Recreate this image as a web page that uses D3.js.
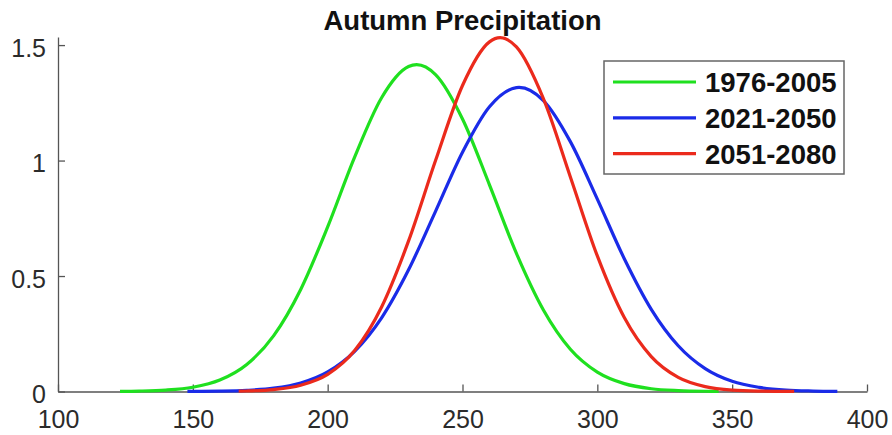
<!DOCTYPE html>
<html>
<head>
<meta charset="utf-8">
<script src="https://cdn.jsdelivr.net/npm/d3@7"></script>
<style>
  body { margin: 0; background: #fff; }
  svg { display: block; font-family: "Liberation Sans", Arial, Helvetica, sans-serif; }
</style>
</head>
<body>
<svg id="chart" width="892" height="435"></svg>
<script>
// values
const title = 'Autumn Precipitation'
const seriesNames = ['1976-2005', '2021-2050', '2051-2080']
const seriesColours = ['#1fe01f', '#1a2be8', '#eb2a1c']

const xTicks = [100, 150, 200, 250, 300, 350, 400]
const yTicks = [0, 0.5, 1, 1.5]

const x1976 = [123, 130, 140, 150, 160, 170, 180, 190, 200, 210, 220, 230, 233, 240, 250, 260, 270, 280, 290, 300, 310, 320, 330, 340, 345]
const y1976 = [0.0007, 0.0018, 0.0061, 0.0186, 0.0496, 0.117, 0.242, 0.442, 0.713, 1.015, 1.272, 1.407, 1.415, 1.372, 1.180, 0.895, 0.598, 0.353, 0.183, 0.084, 0.034, 0.012, 0.004, 0.001, 0.0005]

const x2021 = [148, 150, 160, 170, 180, 190, 200, 210, 220, 230, 240, 250, 260, 270, 271, 280, 290, 300, 310, 320, 330, 340, 350, 360, 370, 380, 389]
const y2021 = [0.0003, 0.0005, 0.0016, 0.0051, 0.0145, 0.037, 0.085, 0.174, 0.319, 0.527, 0.780, 1.036, 1.233, 1.316, 1.317, 1.260, 1.082, 0.833, 0.575, 0.356, 0.198, 0.099, 0.044, 0.018, 0.006, 0.002, 0.0006]

const x2051 = [167, 170, 180, 190, 200, 210, 220, 230, 240, 250, 260, 264, 270, 280, 290, 300, 310, 320, 330, 340, 350, 360, 373]
const y2051 = [0.0015, 0.0022, 0.0083, 0.027, 0.074, 0.177, 0.366, 0.652, 1.000, 1.325, 1.514, 1.532, 1.492, 1.268, 0.929, 0.587, 0.320, 0.151, 0.061, 0.021, 0.006, 0.0017, 0.0002]

const xSeries = [x1976, x2021, x2051]
const ySeries = [y1976, y2021, y2051]

const svg = d3.select('#chart')

const xScale = d3.scaleLinear().domain([100, 400]).range([58, 867])
const yScale = d3.scaleLinear().domain([0, 1.535]).range([391.5, 37])

// axes, ticks pointing inwards like matlab
const xAxis = svg.append('g')
    .attr('transform', `translate(0,${yScale(0)})`)
    .call(d3.axisBottom(xScale).tickValues(xTicks).tickFormat(d3.format('d'))
        .tickSizeInner(-7).tickSizeOuter(0).tickPadding(18.5))

const yAxis = svg.append('g')
    .attr('transform', `translate(${xScale(100)},0)`)
    .call(d3.axisLeft(yScale).tickValues(yTicks).tickFormat(d => d)
        .tickSizeInner(-7).tickSizeOuter(0).tickPadding(12))

for (const ax of [xAxis, yAxis]) {
    ax.select('.domain').attr('stroke', '#555').attr('stroke-width', 1.3)
    ax.selectAll('.tick line').attr('stroke', '#555').attr('stroke-width', 1.3)
    ax.selectAll('.tick text')
        .attr('fill', '#2b2b2b')
        .style('font-size', '25px')
        .style('font-family', '"Liberation Sans", Arial, sans-serif')
}
yAxis.selectAll('.tick text').attr('dy', '0.45em')

// curves
const line = d3.line()
    .x(d => xScale(d[0]))
    .y(d => yScale(d[1]))
    .curve(d3.curveMonotoneX)

svg.append('g')
    .selectAll('path.curve')
    .data(seriesNames.map((name, i) => ({
        name,
        colour: seriesColours[i],
        pts: xSeries[i].map((v, j) => [v, ySeries[i][j]])
    })))
    .join('path')
    .attr('class', 'curve')
    .attr('fill', 'none')
    .attr('stroke', d => d.colour)
    .attr('stroke-width', 3.2)
    .attr('stroke-linejoin', 'round')
    .attr('d', d => line(d.pts))

// title
svg.append('text')
    .attr('x', (xScale(100) + xScale(400)) / 2)
    .attr('y', 29.5)
    .attr('text-anchor', 'middle')
    .attr('fill', '#111')
    .style('font-size', '27.5px')
    .style('font-weight', 'bold')
    .text(title)

// legend
const legend = svg.append('g')
legend.append('rect')
    .attr('x', 604).attr('y', 61)
    .attr('width', 240).attr('height', 113)
    .attr('fill', '#fff')
    .attr('stroke', '#666')
    .attr('stroke-width', 1.5)

const rows = legend.selectAll('g.row')
    .data(seriesNames)
    .join('g')
    .attr('class', 'row')
    .attr('transform', (d, i) => `translate(0,${82 + i * 35.8})`)

rows.append('line')
    .attr('x1', 613).attr('x2', 696)
    .attr('stroke', (d, i) => seriesColours[i])
    .attr('stroke-width', 3.2)

rows.append('text')
    .attr('x', 705)
    .attr('dy', '0.36em')
    .attr('fill', '#111')
    .style('font-size', '27.5px')
    .style('font-weight', 'bold')
    .text(d => d)
</script>
</body>
</html>
